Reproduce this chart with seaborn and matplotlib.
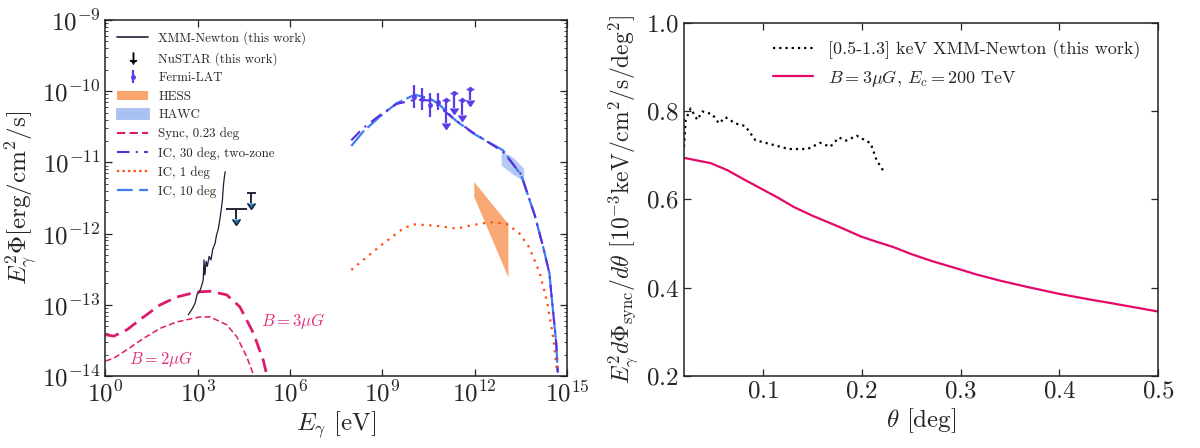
import numpy as np
import matplotlib
matplotlib.use("Agg")
import matplotlib.pyplot as plt
import seaborn as sns
from matplotlib.lines import Line2D
from matplotlib.patches import Patch
from matplotlib.ticker import LogLocator, NullFormatter, NullLocator, FuncFormatter

# ---- left panel data (log10 E [eV], log10 E^2 Phi [erg/cm2/s]) ----
xmm_logE = [2.69, 2.80, 2.91, 2.98, 3.05, 3.09, 3.16, 3.18, 3.20, 3.23, 3.27, 3.31,
            3.37, 3.43, 3.48, 3.56, 3.61, 3.67, 3.72, 3.76, 3.80, 3.83, 3.86, 3.89]
xmm_logF = [-13.14, -13.07, -12.98, -12.85, -12.82, -12.78, -12.68, -12.63, -12.37, -12.58, -12.39, -12.46,
            -12.32, -12.37, -12.23, -12.14, -12.02, -11.93, -11.79, -11.67, -11.53, -11.34, -11.22, -11.13]

nustar_logE = [4.25, 4.74]
nustar_lo = [3.91, 4.59]
nustar_hi = [4.59, 4.89]
nustar_logF = [-11.65, -11.43]
nustar_arrow = [0.14, 0.14]

fermi_logE = [10.03, 10.29, 10.55, 10.82]
fermi_logF = [-10.08, -10.11, -10.19, -10.15]
fermi_errlo = [0.16, 0.15, 0.17, 0.12]
fermi_errhi = [0.16, 0.15, 0.16, 0.12]
fermi_ul_logE = [11.08, 11.34, 11.60, 11.86]
fermi_ul_logF = [-10.13, -10.02, -10.13, -9.97]
fermi_ul_len = [0.31, 0.22, 0.20, 0.16]

hess_logE = [11.97, 13.08]
hess_up = [-11.27, -11.86]
hess_lo = [-11.48, -12.61]

hawc_logE = [12.86, 13.25, 13.59]
hawc_up = [-10.83, -10.93, -11.08]
hawc_lo = [-11.04, -11.17, -11.26]

sync3_logE = [0.0, 0.27, 0.70, 1.24, 1.78, 2.32, 2.97, 3.40, 3.94, 4.37, 4.81, 5.13, 5.24]
sync3_logF = [-13.42, -13.44, -13.35, -13.17, -13.00, -12.89, -12.82, -12.81, -12.86, -13.03, -13.40, -13.78, -13.98]
sync2_logE = [0.0, 0.27, 0.70, 1.24, 1.78, 2.32, 3.08, 3.40, 3.94, 4.27, 4.59, 4.81]
sync2_logF = [-13.79, -13.75, -13.63, -13.47, -13.33, -13.24, -13.17, -13.17, -13.28, -13.45, -13.73, -13.98]

ic10_logE = [7.99, 8.37, 8.91, 9.46, 10.05, 10.54, 10.86, 11.35, 11.94, 12.92, 13.51, 13.95,
             14.22, 14.43, 14.49, 14.65, 14.70]
ic10_logF = [-10.77, -10.57, -10.36, -10.17, -10.05, -10.10, -10.19, -10.40, -10.59, -10.83, -11.18, -11.74,
             -12.18, -12.56, -12.84, -13.54, -13.95]
ic30_logE = [7.99, 8.37, 8.91, 9.46, 10.05, 10.54, 10.86, 11.35, 11.94, 12.92, 13.51, 13.95,
             14.22, 14.43, 14.49, 14.65, 14.70]
ic30_logF = [-10.69, -10.52, -10.34, -10.18, -10.12, -10.13, -10.22, -10.40, -10.58, -10.85, -11.17, -11.74,
             -12.18, -12.56, -12.84, -13.54, -13.95]
ic1_logE = [7.99, 8.91, 9.67, 10.00, 10.75, 11.40, 11.94, 12.48, 13.03, 13.46, 13.78, 14.11,
            14.35, 14.55, 14.68]
ic1_logF = [-12.51, -12.18, -11.93, -11.87, -11.89, -11.93, -11.88, -11.84, -11.86, -12.00, -12.20, -12.55,
            -12.95, -13.45, -13.95]

# ---- right panel data ----
theta_xmm = [0.020, 0.0217, 0.0267, 0.0335, 0.0385, 0.0486, 0.0554, 0.062, 0.072, 0.082, 0.0923,
             0.111, 0.126, 0.145, 0.158, 0.168, 0.177, 0.184, 0.195, 0.209, 0.215, 0.222]
prof_xmm = [0.719, 0.780, 0.806, 0.780, 0.799, 0.793, 0.772, 0.786, 0.772, 0.766, 0.734,
            0.723, 0.714, 0.714, 0.728, 0.719, 0.740, 0.733, 0.744, 0.727, 0.689, 0.664]
theta_model = [0.020, 0.047, 0.064, 0.080, 0.0975, 0.115, 0.131, 0.150, 0.165, 0.180, 0.199, 0.215,
               0.232, 0.249, 0.270, 0.300, 0.316, 0.340, 0.367, 0.400, 0.434, 0.450, 0.500]
prof_model = [0.694, 0.682, 0.666, 0.646, 0.625, 0.604, 0.583, 0.563, 0.549, 0.535, 0.516, 0.504,
              0.492, 0.477, 0.461, 0.441, 0.430, 0.416, 0.402, 0.386, 0.372, 0.366, 0.346]

c_xmm = "#1c1c3a"
c_fermi = "#5b3de6"
c_hess = "#f8a46c"
c_hawc = "#a8c0f2"
c_sync = "#de1a6c"
c_ic30 = "#5a2de0"
c_ic1 = "#ff4a0a"
c_ic10 = "#3e7cf4"
c_model = "#e3086a"


def p10(a):
    return 10.0 ** np.asarray(a)


sns.set_style("ticks")
plt.rcParams["font.family"] = ["cmr10", "DejaVu Serif"]
plt.rcParams["mathtext.fontset"] = "cm"
plt.rcParams["axes.unicode_minus"] = False
plt.rcParams["xtick.direction"] = "in"
plt.rcParams["ytick.direction"] = "in"

fig = plt.figure(figsize=(12, 4.48), dpi=100)
ax1 = fig.add_axes([0.0879, 0.1607, 0.3846, 0.7947])
ax2 = fig.add_axes([0.570, 0.1607, 0.395, 0.7886])

log_fmt = FuncFormatter(lambda v, p: r"$10^{%d}$" % int(round(np.log10(v))))
lin_fmt = FuncFormatter(lambda v, p: r"$%.1f$" % v)

# ---------------- left panel ----------------
ax1.set_xscale("log")
ax1.set_yscale("log")

ax1.fill_between(p10(hess_logE), p10(hess_lo), p10(hess_up), color=c_hess, lw=0, alpha=0.95, zorder=1)
ax1.fill_between(p10(hawc_logE), p10(hawc_lo), p10(hawc_up), color=c_hawc, lw=0, alpha=0.85, zorder=1)

sns.lineplot(x=p10(sync3_logE), y=p10(sync3_logF), ax=ax1, color=c_sync, lw=2.0,
             linestyle=(0, (5, 2.5)), sort=False)
sns.lineplot(x=p10(sync2_logE), y=p10(sync2_logF), ax=ax1, color=c_sync, lw=1.1,
             linestyle=(0, (4, 2)), sort=False)
sns.lineplot(x=p10(ic10_logE), y=p10(ic10_logF), ax=ax1, color=c_ic10, lw=1.6,
             linestyle=(0, (9, 2)), sort=False)
sns.lineplot(x=p10(ic30_logE), y=p10(ic30_logF), ax=ax1, color=c_ic30, lw=1.5,
             linestyle=(0, (6, 3, 1, 3)), sort=False)
sns.lineplot(x=p10(ic1_logE), y=p10(ic1_logF), ax=ax1, color=c_ic1, lw=1.6,
             linestyle=(0, (1, 2.5)), sort=False)
sns.lineplot(x=p10(xmm_logE), y=p10(xmm_logF), ax=ax1, color=c_xmm, lw=0.9, sort=False)

# NuSTAR upper limits
nE = p10(nustar_logE)
nF = p10(nustar_logF)
ax1.errorbar(nE, nF, xerr=[nE - p10(nustar_lo), p10(nustar_hi) - nE],
             yerr=nF - p10(np.array(nustar_logF) - np.array(nustar_arrow)),
             uplims=True, fmt="none", ecolor="#15152a", elinewidth=1.3, capsize=0)

# Fermi-LAT
fE = p10(fermi_logE)
fF = p10(fermi_logF)
fermi_h = ax1.errorbar(fE, fF, yerr=[fF - p10(np.array(fermi_logF) - np.array(fermi_errlo)),
                                    p10(np.array(fermi_logF) + np.array(fermi_errhi)) - fF],
                       fmt="o", ms=2.5, color=c_fermi, elinewidth=1.6, capsize=0)
uE = p10(fermi_ul_logE)
uF = p10(fermi_ul_logF)
ax1.errorbar(uE, uF, yerr=uF - p10(np.array(fermi_ul_logF) - np.array(fermi_ul_len)),
             uplims=True, fmt="o", ms=2.5, color=c_fermi, elinewidth=1.6, capsize=3)

ax1.text(p10(5.05), p10(-13.23), r"$B=3\mu G$", color="#e0307e", fontsize=12, va="center")
ax1.text(p10(0.75), p10(-13.76), r"$B=2\mu G$", color="#e0307e", fontsize=12, va="center")

ax1.set_xlim(1, 1e15)
ax1.set_ylim(1e-14, 1e-9)
ax1.set_xticks([1e0, 1e3, 1e6, 1e9, 1e12, 1e15])
ax1.xaxis.set_minor_locator(NullLocator())
ax1.yaxis.set_major_locator(LogLocator(base=10, numticks=10))
ax1.yaxis.set_minor_locator(LogLocator(base=10, subs=np.arange(2, 10), numticks=20))
ax1.yaxis.set_minor_formatter(NullFormatter())
ax1.xaxis.set_major_formatter(log_fmt)
ax1.yaxis.set_major_formatter(log_fmt)
ax1.tick_params(which="both", top=True, right=True, labelsize=18)
ax1.tick_params(which="major", length=5, width=0.9)
ax1.tick_params(which="minor", length=2.5, width=0.6)
ax1.set_xlabel(r"$E_\gamma$ [eV]", fontsize=18, labelpad=2)
ax1.set_ylabel(r"$E_\gamma^2\Phi$[erg/cm$^2$/s]", fontsize=18, labelpad=2)

handles = [
    Line2D([], [], color=c_xmm, lw=1.2),
    Line2D([], [], color="black", lw=0, marker=r"$\downarrow$", ms=8),
    fermi_h,
    Patch(facecolor=c_hess, edgecolor="none"),
    Patch(facecolor=c_hawc, edgecolor=c_hawc, lw=2),
    Line2D([], [], color=c_sync, lw=1.5, linestyle=(0, (4, 2))),
    Line2D([], [], color=c_ic30, lw=1.5, linestyle=(0, (6, 3, 1, 3))),
    Line2D([], [], color=c_ic1, lw=1.6, linestyle=(0, (1, 1.5))),
    Line2D([], [], color=c_ic10, lw=1.6, linestyle=(0, (7, 3))),
]
labels = ["XMM-Newton (this work)", "NuSTAR (this work)", "Fermi-LAT", "HESS", "HAWC",
          "Sync, 0.23 deg", "IC, 30 deg, two-zone", "IC, 1 deg", "IC, 10 deg"]
ax1.legend(handles, labels, loc="upper left", frameon=False, fontsize=9.3,
           handlelength=2.4, labelspacing=0.5, borderaxespad=0.5)

# ---------------- right panel ----------------
sns.lineplot(x=theta_xmm, y=prof_xmm, ax=ax2, color="black", lw=1.6,
             linestyle=(0, (1, 1.8)), sort=False,
             label="[0.5-1.3] keV XMM-Newton (this work)")
sns.lineplot(x=theta_model, y=prof_model, ax=ax2, color=c_model, lw=1.6, sort=False,
             label=r"$B=3\mu G$, $E_c=200$ TeV")
ax2.set_xlim(0.02, 0.5)
ax2.set_ylim(0.2, 1.0)
ax2.set_xticks([0.1, 0.2, 0.3, 0.4, 0.5])
ax2.set_yticks([0.2, 0.4, 0.6, 0.8, 1.0])
ax2.xaxis.set_major_formatter(lin_fmt)
ax2.yaxis.set_major_formatter(lin_fmt)
ax2.tick_params(which="both", top=True, right=True, labelsize=18, length=5, width=0.9)
ax2.set_xlabel(r"$\theta$ [deg]", fontsize=18, labelpad=2)
ax2.set_ylabel(r"$E_\gamma^2 d\Phi_{\rm sync}/d\theta$ [$10^{-3}$keV/cm$^2$/s/deg$^2$]", fontsize=17, labelpad=4)
ax2.legend(loc="upper right", frameon=False, fontsize=13, handlelength=2.2,
           labelspacing=0.45, borderaxespad=0.6)

for ax in (ax1, ax2):
    for s in ax.spines.values():
        s.set_linewidth(1.1)
        s.set_color("#222222")

fig.savefig("out.png", dpi=100)
